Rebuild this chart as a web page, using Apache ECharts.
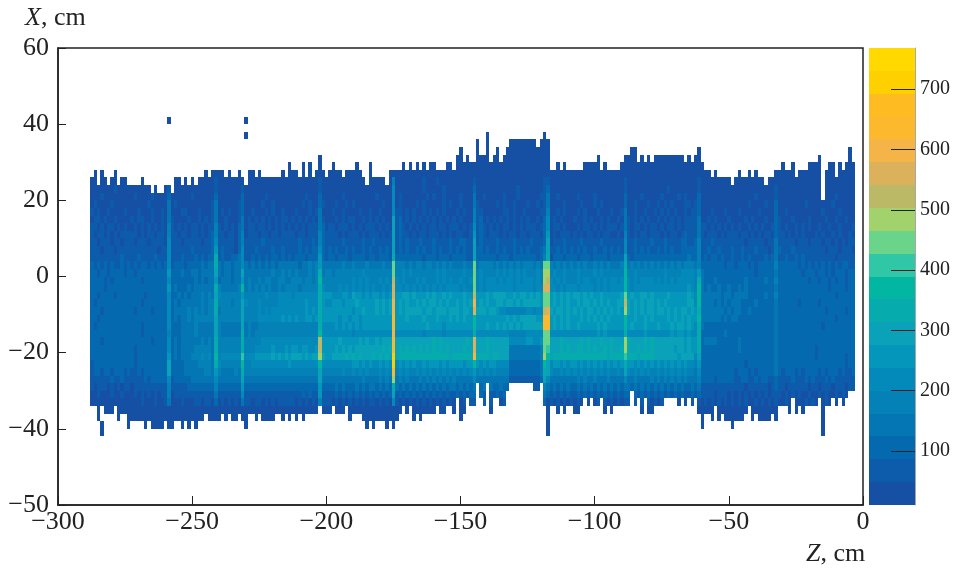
<!DOCTYPE html>
<html><head><meta charset="utf-8">
<style>html,body{margin:0;padding:0;background:#fff}#c{width:954px;height:570px}</style>
<script src="https://cdn.jsdelivr.net/npm/echarts@6/dist/echarts.min.js"></script>
</head><body><div id="c"></div>
<script>
const zBinStart = -288, zBinWidth = 1.25, xBinHeight = 2;
const zTicks = [-300, -250, -200, -150, -100, -50, 0];
const xTickLabels = {60:'60',40:'40',20:'20',0:'0','-20':'\u221220','-40':'\u221240','-60':'\u221250'};
const scaleTicks = [100, 200, 300, 400, 500, 600, 700];
const scaleEdges = [10.4,48.3,86.2,124.1,162,199.9,237.8,275.7,313.6,351.5,389.4,427.3,465.2,503.1,541,578.9,616.8,654.7,692.6,730.5,768.4];
const levelColors = ['#1650a5','#0c5cab','#0569b0','#0576b4','#0482b8','#038abb','#0596bc','#09a2b8','#06abad','#02b7a2','#30c7a6','#6ad48a','#a2d26c','#bbb966','#dcb15c','#f4b447','#fdb92e','#febc22','#ffd000','#ffd900'];

// upper edge of the filled range of every Z bin (X, cm)
const columnTop = [26,28,24,28,26,24,26,28,24,26,26,24,24,24,24,26,24,24,22,24,22,22,24,24,22,26,26,24,26,24,
26,24,26,26,28,26,28,28,28,28,26,28,26,26,28,26,24,28,28,26,28,26,26,26,26,26,26,28,26,30,
28,28,26,30,26,30,26,28,32,28,26,28,30,28,28,26,28,28,28,30,28,26,24,30,26,26,26,26,24,28,
28,28,28,30,28,30,28,30,28,30,28,30,30,28,28,28,30,30,28,32,34,30,32,30,30,36,32,32,38,30,
32,34,30,32,34,36,36,36,36,36,36,36,36,34,36,38,36,28,28,30,28,30,28,28,28,28,28,30,30,30,
30,32,28,30,28,28,28,28,30,32,32,34,34,30,32,30,32,30,32,32,32,32,32,32,32,32,32,30,32,30,
32,34,30,28,28,26,28,26,26,26,26,24,26,28,26,26,28,26,28,26,26,24,26,26,28,28,30,28,28,30,
26,28,28,28,30,30,30,32,20,28,30,30,26,30,28,30,34,30];
// lower edge of the filled range of every Z bin (X, cm)
const columnBottom = [-34,-34,-38,-34,-36,-36,-36,-34,-38,-36,-36,-40,-38,-38,-38,-38,-40,-38,-40,-40,-40,-40,-38,-40,-40,-38,-38,-40,-38,-40,
-38,-40,-38,-38,-36,-38,-38,-38,-38,-36,-38,-36,-38,-38,-36,-38,-40,-36,-36,-38,-36,-38,-38,-38,-38,-36,-36,-38,-36,-38,
-36,-38,-36,-38,-36,-36,-36,-36,-34,-36,-36,-36,-34,-36,-36,-36,-34,-38,-36,-36,-36,-38,-40,-38,-40,-38,-38,-38,-40,-38,
-40,-38,-36,-34,-36,-34,-38,-36,-38,-36,-36,-36,-36,-34,-36,-36,-34,-34,-36,-32,-38,-36,-32,-34,-34,-28,-32,-34,-28,-36,
-32,-32,-34,-34,-30,-28,-28,-28,-28,-28,-28,-28,-30,-30,-28,-34,-42,-34,-34,-36,-34,-36,-34,-34,-36,-36,-34,-32,-34,-32,
-34,-34,-32,-36,-34,-36,-34,-34,-34,-34,-34,-30,-34,-32,-36,-32,-36,-36,-34,-34,-34,-32,-32,-32,-32,-34,-32,-34,-32,-34,
-32,-36,-40,-36,-36,-38,-34,-38,-36,-38,-38,-40,-38,-38,-38,-36,-34,-38,-36,-38,-38,-38,-38,-36,-38,-34,-34,-34,-36,-32,
-36,-34,-36,-34,-34,-34,-34,-32,-42,-34,-34,-32,-34,-32,-34,-32,-30,-30];
// isolated cells outside the filled range: [Z bin, lower X]
const strayCells = [[23,40],[46,40],[46,36],[3,-40],[3,-42]];

// colour-scale level (base 20) of every Z bin; first row is X 24..26, then 2 cm lower per row, outside these rows level is 0
const levelRows = [
"000000000000 000000000001 000000000000 010000000000 000000000000 000000001000 000000000000 000000400000 000100010000 000000100000 000000000000 000110000000 000000000000 000100000000 000000000000 010000000000 000000000000 000000000000 000000000000",
"000000010000 000000000001 000000000000 010000000100 000000000000 000000001000 000000000000 000000500000 000100000100 000000200000 000000010000 000120000000 000000000000 000100000000 000010000000 010000000000 000000000000 100000000000 000000000000",
"000100000000 010000100002 000000100000 020000000200 000010000000 000010002000 000100000000 010000501000 000010100100 001000300100 000100010000 001130010000 010000100000 000200001000 001000010100 020000000000 000000100000 100000000000 000000100000",
"010000100000 000001000003 010000000000 130000001200 000100100000 000101002100 010010100000 000100501000 010100000101 001000310000 010100100010 010130000100 001000101000 000200100010 010101000110 120000000000 000010000100 200000000100 000001000000",
"101001000010 001000100103 000110001000 130101001200 100010100100 010001013000 100100001001 001000511010 100101010100 010100411000 000110100100 001140010100 010100010001 001300100100 101010100101 120001000100 010000010000 200100000000 001000010000",
"011010010000 101100100103 100001001010 130010001301 010101010110 101010103100 010101100101 010100712010 101010101010 101000412010 101010101010 010250101000 100101001010 010310101010 010101010111 130010100010 000101000100 210001000010 000100100100",
"110101101010 010101010104 101010110101 141010102301 101101010101 010101113201 101110101011 101010712101 010101101101 110101512101 010110101011 101250110100 010110101011 101310110101 101011010111 131101010101 010010101001 210100101010 010010010001",
"101101010111 110101101104 110110110101 241101102401 110110110111 101101114211 110101110101 110101712110 101101110101 011001612101 110101101101 110260101110 101011010110 010410101101 110101101211 131011101011 101101010110 211010101000 101001010010",
"110111011011 101110111105 111011111011 251111102411 111211111111 112111214211 111211111211 211111712121 112111211112 112211712111 121111211112 111270111211 112111112111 111511211112 111211112211 241112111111 111011111011 311111011101 110110101011",
"111011101111 111111110115 111111211111 261211102511 121111211211 112121225212 121121211212 112121712121 121211212112 121211722121 121211212121 112371121212 121211211212 121511212121 121212112222 241121121112 112111211101 321112111111 111011101110",
"111111111211 112111121115 111211121212 281211223511 212121221212 122212226212 212221222212 212221822222 222122212221 222211722222 212221222222 212480222122 212221222212 222721222222 222222222232 241212212112 112121111212 311211212111 111111011111",
"212121211212 121221212125 122212222323 383233233532 323232323333 332334346333 333433433343 333433b44434 344344343434 333433b34444 343434343444 343bb4343434 343433434343 334834343434 343434343444 342222222122 122212122222 422222212121 212121212211",
"221221222212 212222222226 222322332333 373233233733 333333433434 343334348344 344444444544 444444b44545 444444454544 444544b45444 454545454544 454cc4544544 454444545444 444944544444 444544445555 463222222222 222222122222 322222221222 122121222122",
"222212122222 222122222225 222222232323 362333233634 334344334433 444344349444 444444545454 445454d54544 454544454545 445445b45455 545455454555 454cd5454544 454554454545 545954545555 454545455555 483222322222 222322222322 422222222212 212212122122",
"222212222222 222222222226 232223233333 384333334934 343434334344 443444448544 445454545454 544545e55454 545454545455 554544b45455 555555455555 455ee5545455 545555454545 555954555555 555555555565 493232232232 232322222222 322222222222 222212222122",
"221222212222 222212222225 223232333434 375444444644 444454445555 455555558666 555665766565 665656e66776 766676766767 666766d66676 777766767767 676bb6767676 776767667666 667b67667767 666676666676 593333332332 333322222322 422222222222 222222122222",
"212222222222 222122222225 232333333434 484444344754 445444445555 555565558655 666566676666 676767f67676 676767767676 676767f67676 677677676777 776bb6767676 676776767676 677d76767677 676766666677 593333232323 332222322222 322222212222 212222222222",
"222122222222 212222122225 233334343434 483444444744 445454555555 555565658666 666666566766 676767f67677 777677677767 776776e77767 765544444455 455de7677676 767677676767 676c76767677 677676767767 683333333232 332232222222 322222222222 222122222122",
"221222222222 222222222225 232334344444 474444444744 445555555656 565566568666 665665665666 666666g66676 666766676667 676766966666 666676767777 766gg6767676 667676767676 666966766767 666676767676 693333332323 322222222222 322222222222 222222122222",
"212222222222 222122222225 222333343333 374333333734 334444444444 444444448555 565656565666 666666g66666 666676666566 666666966676 676767676777 777gg6767676 676666676766 666967666766 676667677676 583222222222 222222222222 322222222222 221222222222",
"222222222222 222122222224 222333343333 374333333834 344444444444 444444449555 555555455555 555555f55555 555455555455 555555855555 555554444455 555bb5555555 555555565655 555855555655 555556566565 582222222322 222222222222 322222222222 222222222222",
"222122222222 222222122225 232333333434 384444444844 444555555555 55555555d666 667666667676 676777g77777 777777878777 777787e77787 777775555566 556bb7778777 778787778778 777c87777878 777777777676 682333322222 232222222222 322222222222 222222222222",
"222222222222 212222222225 232333344444 384444444844 455555655565 66566556d666 676767677777 777878g78787 878787878787 777877e77787 777773333333 334ba7778787 788787877878 778c87787878 777777677676 682222222222 232222222222 322222222222 122222222222",
"222222222222 212222222226 232333444545 394555555a55 566666767676 77767677c766 777787878777 878787i78888 888888888887 888888f88887 887773333333 334c97888888 888888888878 888a88878888 777777767777 572222222222 222222222222 322222222222 122222222122",
"122222222222 212222222227 222233334444 385444444944 555555555556 555555559555 555555665656 556565i56565 655656665656 666566965656 655552222222 223975665656 656565656565 656866565656 565656565655 462222222222 222122222222 322222222222 222222222122",
"122122122212 112122222227 222233333344 364333343844 444444444444 444444447444 444544545454 445454g45454 454545454545 454545645454 544442222222 223875445454 545454545454 454754545454 454545454544 352222222222 122212122222 321222121222 212122212112",
"111111211211 111121222225 122222333333 353333333733 333333333333 333333337333 333333333433 334343c34343 334343434343 433333533333 333331111111 112753333333 343433433343 333533433334 343434343433 342222122222 112211212211 211112111212 111212111111",
"101110101011 011111111114 111112222222 242222222622 222222222222 222222226222 232322232323 323232832323 232323232323 323232332323 223221111111 111432323232 232323232323 232332323232 323232323223 231111111111 111011111101 211011111101 101110111011",
"001000100100 010101010114 011111111111 131111111511 111111111111 111212116111 121212121212 121212712121 212121212121 121212212121 121210000000 001321212121 121212121212 121221212121 212121212112 121111011101 010101010101 110101010010 010100101010",
"000000000000 000100010013 000100011011 020101010311 011010101111 101010104111 010101010101 101010510101 010101010101 010101110101 010100000000 000201010101 010101010101 010110101010 101010101001 110101010101 010100101010 100101000101 000100010000"
];

const firstRowX = 24;
const parsedRows = levelRows.map(r => r.split(' ').map(g => g.padEnd(12, g[g.length - 1]).slice(0, 12)).join(''));
function levelAt(col, x) {
  const row = parsedRows[(firstRowX - x) / xBinHeight];
  return row ? parseInt(row[col], 20) : 0;
}
const levelValue = k => (scaleEdges[k] + scaleEdges[k + 1]) / 2;
const cells = [];
columnTop.forEach((top, col) => {
  for (let x = columnBottom[col]; x < top; x += xBinHeight) {
    cells.push([zBinStart + col * zBinWidth, x, levelValue(levelAt(col, x))]);
  }
});
strayCells.forEach(([col, x]) => cells.push([zBinStart + col * zBinWidth, x, levelValue(0)]));
const bands = levelColors.map((c, k) => [0, scaleEdges[k], levelValue(k), scaleEdges[k + 1]]);

const serif = '"Liberation Serif","Times New Roman",serif';
const ink = '#222';
const chart = echarts.init(document.getElementById('c'), null, {renderer: 'canvas'});
const titleRich = {
  i: {fontFamily: serif, fontSize: 26, fontStyle: 'italic', fontWeight: 'normal', color: ink},
  n: {fontFamily: serif, fontSize: 26, fontWeight: 'normal', color: ink}
};
chart.setOption({
  animation: false,
  backgroundColor: '#fff',
  title: [
    {text: '{i|X}{n|, cm}', left: 25, top: 5, padding: 0, textStyle: {fontWeight: 'normal', rich: titleRich}},
    {text: '{i|Z}{n|, cm}', left: 806, top: 541, padding: 0, textStyle: {fontWeight: 'normal', rich: titleRich}}
  ],
  grid: [
    {left: 58, top: 48, width: 805, height: 457, show: true, borderColor: ink, borderWidth: 1.5, backgroundColor: '#fff'},
    {left: 869, top: 48, width: 46, height: 457}
  ],
  xAxis: [
    {gridIndex: 0, type: 'value', min: -300, max: 0, interval: 50, splitLine: {show: false},
      axisLine: {onZero: false, lineStyle: {color: ink, width: 1.5}},
      axisTick: {inside: true, length: 9, lineStyle: {color: ink, width: 1}},
      axisLabel: {margin: 4, fontFamily: serif, fontSize: 26, color: ink, showMinLabel: true, showMaxLabel: true, formatter: v => String(v).replace('-', '\u2212')}},
    {gridIndex: 1, type: 'value', min: 0, max: 1, show: false}
  ],
  yAxis: [
    {gridIndex: 0, type: 'value', min: -60, max: 60, interval: 20, splitLine: {show: false},
      axisLine: {onZero: false, lineStyle: {color: ink, width: 1.5}},
      axisTick: {inside: true, length: 8, lineStyle: {color: ink, width: 1}},
      axisLabel: {margin: 9, fontFamily: serif, fontSize: 26, color: ink, showMinLabel: true, showMaxLabel: true, formatter: v => xTickLabels[v]}},
    {gridIndex: 1, type: 'value', position: 'right', min: scaleEdges[0], max: scaleEdges[20], splitLine: {show: false}, z: 10,
      axisLine: {show: true, onZero: false, lineStyle: {color: 'rgba(60,60,60,0.45)', width: 1}},
      axisTick: {show: true, inside: true, length: 24, customValues: scaleTicks, lineStyle: {color: '#222', width: 1}},
      axisLabel: {margin: 5, fontFamily: serif, fontSize: 20, color: ink, customValues: scaleTicks}}
  ],
  visualMap: {
    show: false, type: 'piecewise', dimension: 2, seriesIndex: [0, 1],
    pieces: levelColors.map((c, k) => ({gte: scaleEdges[k], lt: scaleEdges[k + 1], color: c}))
  },
  series: [
    {type: 'custom', xAxisIndex: 0, yAxisIndex: 0, data: cells, progressive: 0, silent: true,
      encode: {x: 0, y: 1},
      renderItem(params, api) {
        const z = api.value(0), x = api.value(1);
        const a = api.coord([z, x + xBinHeight]), b = api.coord([z + zBinWidth, x]);
        const l = Math.round(a[0]), t = Math.round(a[1]);
        return {type: 'rect', shape: {x: l, y: t, width: Math.round(b[0]) - l, height: Math.round(b[1]) - t},
          style: {fill: api.visual('color')}};
      }},
    {type: 'custom', xAxisIndex: 1, yAxisIndex: 1, data: bands, silent: true, z: 1,
      encode: {x: 0, y: 1},
      renderItem(params, api) {
        const a = api.coord([0, api.value(3)]), b = api.coord([1, api.value(1)]);
        return {type: 'rect', shape: {x: a[0], y: Math.round(a[1]), width: b[0] - a[0], height: Math.round(b[1]) - Math.round(a[1])},
          style: {fill: api.visual('color')}};
      }}
  ]
});
</script></body></html>
